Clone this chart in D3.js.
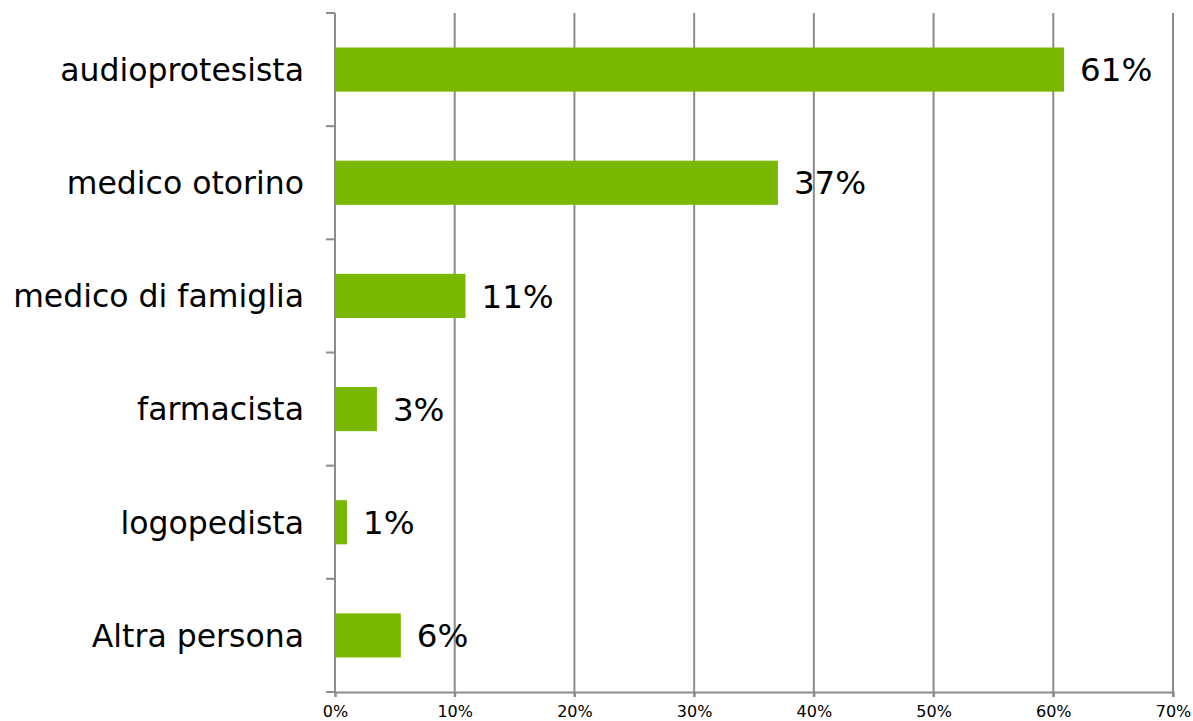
<!DOCTYPE html>
<html>
<head>
<meta charset="utf-8">
<script src="https://cdn.jsdelivr.net/npm/d3@7"></script>
<style>
  body { margin: 0; background: #fff; }
  text { font-family: "DejaVu Sans", Verdana, sans-serif; fill: #000; }
</style>
</head>
<body>
<div id="vis"></div>
<script>
const FRAME_WIDTH = 1193;
const FRAME_HEIGHT = 721;
const MARGINS = {left: 335, right: 20, top: 13, bottom: 29};

// data
const categories = ["audioprotesista", "medico otorino", "medico di famiglia", "farmacista", "logopedista", "Altra persona"];
const values = [0.609, 0.37, 0.109, 0.035, 0.01, 0.055];
const valueLabels = ["61%", "37%", "11%", "3%", "1%", "6%"];
const xTicks = [0, 0.1, 0.2, 0.3, 0.4, 0.5, 0.6, 0.7];

const VIS_WIDTH = FRAME_WIDTH - MARGINS.left - MARGINS.right;
const VIS_HEIGHT = FRAME_HEIGHT - MARGINS.top - MARGINS.bottom;

const svg = d3.select("#vis")
  .append("svg")
    .attr("width", FRAME_WIDTH)
    .attr("height", FRAME_HEIGHT);

const g = svg.append("g")
  .attr("transform", "translate(" + MARGINS.left + "," + MARGINS.top + ")");

const X_SCALE = d3.scaleLinear()
  .domain([0, 0.7])
  .range([0, 838]);

const Y_SCALE = d3.scaleBand()
  .domain(categories)
  .range([0, VIS_HEIGHT])
  .paddingInner(0.61)
  .paddingOuter(0.305);

// vertical gridlines
g.selectAll(".grid")
  .data(xTicks.slice(1))
  .enter()
  .append("line")
    .attr("x1", d => X_SCALE(d))
    .attr("x2", d => X_SCALE(d))
    .attr("y1", 0)
    .attr("y2", VIS_HEIGHT + 5)
    .attr("stroke", "#8c8c8c")
    .attr("stroke-width", 2);

// bars
g.selectAll(".bar")
  .data(categories)
  .enter()
  .append("rect")
    .attr("x", 0)
    .attr("y", d => Y_SCALE(d))
    .attr("width", (d, i) => X_SCALE(values[i]))
    .attr("height", Y_SCALE.bandwidth())
    .attr("fill", "#7ab800");

// value labels
g.selectAll(".val")
  .data(categories)
  .enter()
  .append("text")
    .attr("x", (d, i) => X_SCALE(values[i]) + 16)
    .attr("y", d => Y_SCALE(d) + Y_SCALE.bandwidth() / 2)
    .attr("dy", "0.36em")
    .attr("font-size", "32.5px")
    .text((d, i) => valueLabels[i]);

// left axis: line + category ticks at band boundaries
const boundaries = d3.range(categories.length + 1).map(i => i * VIS_HEIGHT / categories.length);
g.append("line")
  .attr("x1", 0).attr("x2", 0)
  .attr("y1", 0).attr("y2", VIS_HEIGHT)
  .attr("stroke", "#8c8c8c")
  .attr("stroke-width", 2);
g.selectAll(".ytick")
  .data(boundaries)
  .enter()
  .append("line")
    .attr("x1", -9).attr("x2", 0)
    .attr("y1", d => d).attr("y2", d => d)
    .attr("stroke", "#8c8c8c")
    .attr("stroke-width", 2);

g.selectAll(".cat")
  .data(categories)
  .enter()
  .append("text")
    .attr("x", -31)
    .attr("y", d => Y_SCALE(d) + Y_SCALE.bandwidth() / 2)
    .attr("dy", "0.36em")
    .attr("text-anchor", "end")
    .attr("font-size", "31.5px")
    .text(d => d);

// bottom axis
const xAxis = g.append("g")
  .attr("transform", "translate(0," + VIS_HEIGHT + ")")
  .call(d3.axisBottom(X_SCALE)
    .tickValues(xTicks)
    .tickFormat(d3.format(".0%"))
    .tickSize(5)
    .tickPadding(9));
xAxis.select(".domain")
  .attr("stroke", "#8c8c8c")
  .attr("stroke-width", 2);
xAxis.selectAll(".tick line")
  .attr("stroke", "#8c8c8c")
  .attr("stroke-width", 2);
xAxis.selectAll(".tick text")
  .attr("font-family", "DejaVu Sans, Verdana, sans-serif")
  .attr("font-size", "16px")
  .attr("fill", "#000");
</script>
</body>
</html>
